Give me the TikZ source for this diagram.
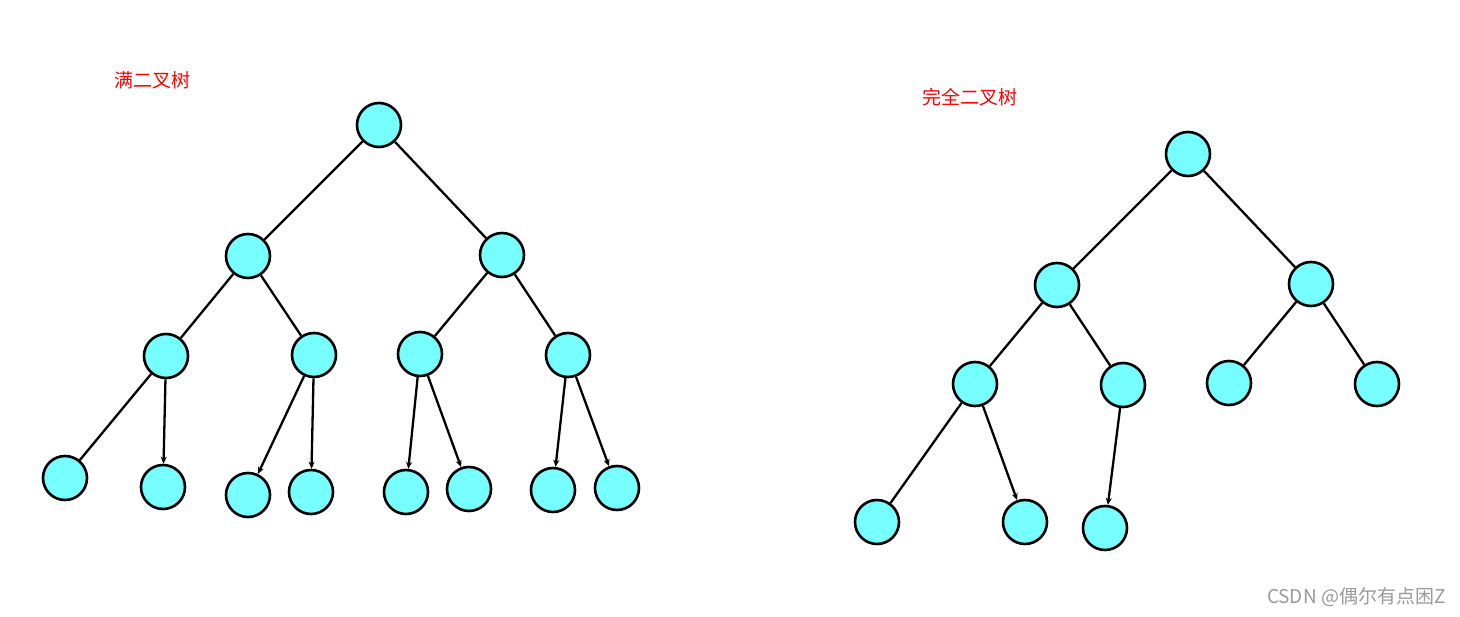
\documentclass[tikz,border=0pt]{standalone}
\usepackage{fontspec}
\setmainfont{Noto Sans CJK SC}
\usetikzlibrary{arrows.meta, positioning}
\definecolor{nodecyan}{HTML}{77FFFF}

\begin{document}
\begin{tikzpicture}
		[x=1pt, y=-1pt,
	elem/.style={draw,circle,fill=nodecyan,line width=2.6pt,minimum size=44pt,inner sep=0pt},
	link/.style={line width=2.3pt},
	arr/.style={line width=2.3pt,-{Stealth[length=7pt,width=6pt]}},
	title/.style={text=red,font=\fontsize{19}{22}\selectfont},
	wmark/.style={text=black!40,font=\fontsize{19}{22}\selectfont,anchor=east}
	]
		\useasboundingbox (0,0) rectangle (1460,617);
		% full binary tree
		\node (fl) [title] at (152,80) {满二叉树};
		\node (a) [elem] at (379,125) {};
		\node (b) [elem] at (248,256) {};
		\node (c) [elem] at (502,255) {};
		\node (d) [elem] at (166,356) {};
		\node (e) [elem] at (314,355) {};
		\node (f) [elem] at (420,354) {};
		\node (g) [elem] at (568,355) {};
		\node (h) [elem] at (65,478) {};
		\node (i) [elem] at (163,487) {};
		\node (j) [elem] at (248,495) {};
		\node (k) [elem] at (311,492) {};
		\node (l) [elem] at (406,492) {};
		\node (m) [elem] at (469,489) {};
		\node (n) [elem] at (553,490) {};
		\node (o) [elem] at (617,488) {};
	
		\draw [link] (a) -- (b);
		\draw [link] (a) -- (c);
		\draw [link] (b) -- (d);
		\draw [link] (b) -- (e);
		\draw [link] (c) -- (f);
		\draw [link] (c) -- (g);
		\draw [link] (d) -- (h);
		\draw [arr] (d) -- (i);
		\draw [arr] (e) -- (j);
		\draw [arr] (e) -- (k);
		\draw [arr] (f) -- (l);
		\draw [arr] (f) -- (m);
		\draw [arr] (g) -- (n);
		\draw [arr] (g) -- (o);

		% complete binary tree
		\node (cl) [title] at (970,97) {完全二叉树};
		\node (ra) [elem] at (1188,154) {};
		\node (rb) [elem] at (1057,285) {};
		\node (rc) [elem] at (1311,284) {};
		\node (rd) [elem] at (975,384) {};
		\node (re) [elem] at (1123,385) {};
		\node (rf) [elem] at (1229,383) {};
		\node (rg) [elem] at (1377,384) {};
		\node (rh) [elem] at (877,522) {};
		\node (ri) [elem] at (1025,522) {};
		\node (rj) [elem] at (1105,528) {};

		\draw [link] (ra) -- (rb);
		\draw [link] (ra) -- (rc);
		\draw [link] (rb) -- (rd);
		\draw [link] (rb) -- (re);
		\draw [link] (rc) -- (rf);
		\draw [link] (rc) -- (rg);
		\draw [link] (rd) -- (rh);
		\draw [arr] (rd) -- (ri);
		\draw [arr] (re) -- (rj);

		\node (wm) [wmark] at (1449,597) {CSDN @偶尔有点困Z};
	\end{tikzpicture}
\end{document}
